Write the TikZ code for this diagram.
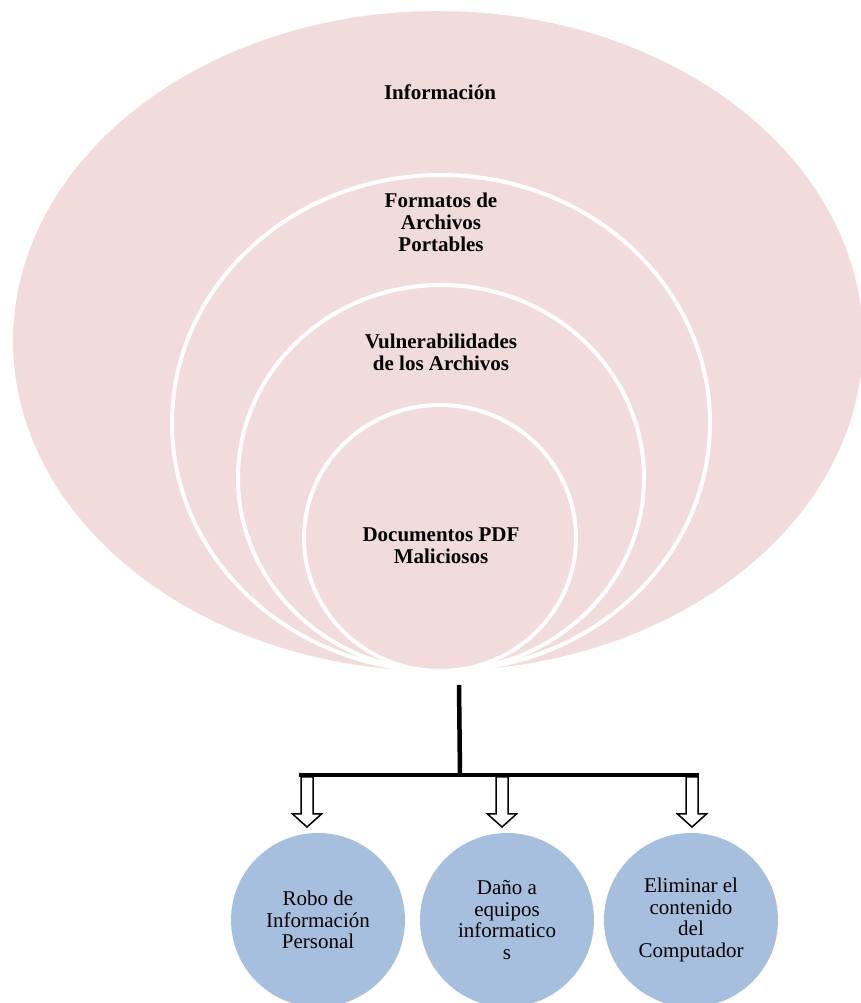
\documentclass[tikz,border=0pt]{standalone}
\usepackage{fontspec}
\setmainfont{Liberation Serif}
\usetikzlibrary{shapes.geometric}
\definecolor{ringpink}{RGB}{242,219,219}
\definecolor{effectblue}{RGB}{167,191,222}
\tikzset{
	ring/.style={ellipse, draw=white, line width=4pt, fill=ringpink, inner sep=0pt},
	ringlabel/.style={font=\bfseries\fontsize{21}{22}\selectfont, align=center},
	effect/.style={circle, fill=effectblue, minimum size=174pt, inner sep=0pt, align=center, font=\fontsize{21}{21.5}\selectfont},
	hollowarrow/.pic={
		\draw[line width=1.5pt, fill=white, line join=miter]
			(-6,0) -- (-6,-37) -- (-14.5,-37) -- (0,-50) -- (14.5,-37) -- (6,-37) -- (6,0) -- cycle;
	}
}
\begin{document}
\begin{tikzpicture}[x=1pt,y=1pt]
	\useasboundingbox (0,0) rectangle (861,1003);

	% nested rings, all touching at the bottom
	\node[ring, minimum width=854pt, minimum height=664pt] (info) at (438,662) {};
	\node[ring, minimum width=538pt, minimum height=496pt] (pdfformat) at (441,580) {};
	\node[ring, minimum width=406pt, minimum height=386pt] (vuln) at (441,525) {};
	\node[ring, minimum width=272pt, minimum height=266pt] (malicious) at (440,465) {};

	% ring labels
	\node[ringlabel] (infolabel) at (440,911) {Información};
	\node[ringlabel] (pdfformatlabel) at (441,781) {Formatos de\\Archivos\\Portables};
	\node[ringlabel] (vulnlabel) at (441,651) {Vulnerabilidades\\de los Archivos};
	\node[ringlabel] (maliciouslabel) at (441,457) {Documentos PDF\\Maliciosos};

	% stem and bar
	\coordinate (barmid) at (460,228);
	\coordinate (barleft) at (299,228);
	\coordinate (barright) at (699,228);
	\path (barmid |- info.south) ++(-1,-10) coordinate (stemtop);
	\draw[line width=4.5pt] (stemtop) -- (barmid);
	\draw[line width=4.5pt] (barleft) -- (barright);

	% hollow arrows down to the effects
	\foreach \x/\name in {307/arrowa, 502/arrowb, 692/arrowc} {
		\pic (\name) at (\x,226) {hollowarrow};
	}

	% effects
	\node[effect] (theft) at (318,83) {Robo de\\Información\\Personal};
	\node[effect] (damage) at (507,83) {Daño a\\equipos\\informatico\\s};
	\node[effect] (erase) at (691,83) {Eliminar el\\contenido\\del\\Computador};
\end{tikzpicture}
\end{document}
